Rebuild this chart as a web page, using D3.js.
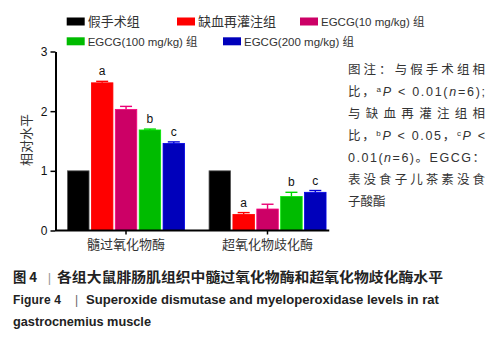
<!DOCTYPE html>
<html>
<head>
<meta charset="utf-8">
<script src="https://cdn.jsdelivr.net/npm/d3@7"></script>
<style>
  body { margin: 0; background: #fff; }
  svg { display: block; }
</style>
</head>
<body>
<div id="chart"></div>
<script>
// chart data
var groups = ["髓过氧化物酶", "超氧化物歧化酶"];
var seriesNames = ["假手术组", "缺血再灌注组", "EGCG(10 mg/kg) 组", "EGCG(100 mg/kg) 组", "EGCG(200 mg/kg) 组"];
var seriesColors = ["#000000", "#ff0000", "#cc0066", "#00bb00", "#0000bb"];
var meanMPO = [1.0, 2.475, 2.03, 1.685, 1.46];
var errMPO = [0, 0.025, 0.05, 0.015, 0.025];
var meanSOD = [1.0, 0.27, 0.36, 0.57, 0.64];
var errSOD = [0, 0.03, 0.08, 0.07, 0.03];
var sigMPO = ["", "a", "", "b", "c"];
var sigSOD = ["", "a", "", "b", "c"];
var yTicks = [0, 1, 2, 3];

var noteLines = [
    [{ t: "图注：与假手术组相" }],
    [{ t: "比，" }, { t: "a", sup: true }, { t: "P", it: true }, { t: " < 0.01(" }, { t: "n", it: true }, { t: "=6);" }],
    [{ t: "与缺血再灌注组相" }],
    [{ t: "比，" }, { t: "b", sup: true }, { t: "P", it: true }, { t: " < 0.05，" }, { t: "c", sup: true }, { t: "P", it: true }, { t: " <" }],
    [{ t: "0.01(" }, { t: "n", it: true }, { t: "=6)。EGCG：" }],
    [{ t: "表没食子儿茶素没食" }],
    [{ t: "子酸酯" }]
];

function create_bar_chart(width, height) {
    var margin = { top: 51.5, left: 55.5, bottom: 110 };
    var plotBottom = height - margin.bottom + 0.5;

    d3.select("#chart").select("svg").remove();

    var svg = d3.select("#chart").append("svg")
        .attr("width", width)
        .attr("height", height);

    var rows = seriesNames.map(function (name, i) {
        return { name: name, color: seriesColors[i] };
    });
    var data = groups.map(function (g, gi) {
        var means = gi === 0 ? meanMPO : meanSOD;
        var errs = gi === 0 ? errMPO : errSOD;
        var sig = gi === 0 ? sigMPO : sigSOD;
        return {
            group: g,
            values: rows.map(function (r, i) {
                return { name: r.name, color: r.color, mean: means[i], err: errs[i], sig: sig[i] };
            })
        };
    });

    // scales
    var x0 = d3.scaleBand().domain(groups).range([margin.left - 0.25, 338.25]).padding(0);
    var x1 = d3.scaleBand().domain(seriesNames)
        .range([12.3, x0.bandwidth() - 12.2]).paddingInner(0.1).paddingOuter(0);
    var y = d3.scaleLinear().domain([0, 3]).range([plotBottom, margin.top]);

    // bars
    var g = svg.selectAll(".grp")
        .data(data)
        .enter().append("g")
        .attr("class", "grp")
        .attr("transform", function (d) { return "translate(" + x0(d.group) + ",0)"; });

    g.selectAll("rect")
        .data(function (d) { return d.values; })
        .enter().append("rect")
        .attr("x", function (d) { return x1(d.name); })
        .attr("y", function (d) { return y(d.mean); })
        .attr("width", x1.bandwidth())
        .attr("height", function (d) { return y(0) - y(d.mean); })
        .attr("fill", function (d) { return d.color; })
        .attr("stroke", function (d) { return d.color === "#000000" ? "#555" : d3.color(d.color).brighter(0.6); })
        .attr("stroke-width", 0.8);

    // error bars
    var eb = g.selectAll(".err")
        .data(function (d) { return d.values.filter(function (v) { return v.err > 0; }); })
        .enter().append("g")
        .attr("class", "err")
        .attr("stroke", function (d) { return d3.color(d.color).brighter(0.4); })
        .attr("stroke-width", 1.4);
    eb.append("line")
        .attr("x1", function (d) { return x1(d.name) + x1.bandwidth() / 2; })
        .attr("x2", function (d) { return x1(d.name) + x1.bandwidth() / 2; })
        .attr("y1", function (d) { return y(d.mean); })
        .attr("y2", function (d) { return y(d.mean + d.err); });
    eb.append("line")
        .attr("x1", function (d) { return x1(d.name) + x1.bandwidth() / 2 - 6; })
        .attr("x2", function (d) { return x1(d.name) + x1.bandwidth() / 2 + 6; })
        .attr("y1", function (d) { return y(d.mean + d.err); })
        .attr("y2", function (d) { return y(d.mean + d.err); });

    // significance letters
    g.selectAll(".sig")
        .data(function (d) { return d.values.filter(function (v) { return v.sig; }); })
        .enter().append("text")
        .attr("class", "sig")
        .attr("x", function (d) { return x1(d.name) + x1.bandwidth() / 2; })
        .attr("y", function (d) { return y(d.mean + d.err) - 6; })
        .attr("text-anchor", "middle")
        .style("font-family", "'Liberation Sans', Arial, sans-serif")
        .style("font-size", "12px")
        .attr("fill", "#111")
        .text(function (d) { return d.sig; });

    // y axis
    var yAxis = svg.append("g")
        .attr("transform", "translate(" + margin.left + ",0)")
        .call(d3.axisLeft(y).tickValues(yTicks).tickFormat(d3.format("d"))
            .tickSize(5).tickSizeOuter(0).tickPadding(3));
    yAxis.select(".domain").attr("stroke-width", 2);
    yAxis.selectAll(".tick line").attr("stroke-width", 1.5);
    yAxis.selectAll("text")
        .style("font-family", "'Liberation Sans', Arial, sans-serif")
        .style("font-size", "12px")
        .attr("fill", "#111");

    // x axis
    var xAxis = svg.append("g")
        .attr("transform", "translate(0," + plotBottom + ")")
        .call(d3.axisBottom(x0).tickSize(4).tickSizeOuter(0).tickPadding(5));
    xAxis.select(".domain")
        .attr("d", "M" + margin.left + ",0H" + (x0.range()[1] - 9))
        .attr("stroke-width", 2);
    xAxis.selectAll(".tick line").attr("stroke-width", 1.5);
    xAxis.selectAll("text")
        .style("font-family", "'Noto Sans CJK SC', sans-serif")
        .style("font-size", "13px")
        .attr("fill", "#333");

    // y label
    svg.append("text")
        .attr("transform", "rotate(-90)")
        .attr("x", -140)
        .attr("y", 31)
        .attr("text-anchor", "middle")
        .style("font-family", "'Noto Sans CJK SC', sans-serif")
        .style("font-size", "13px")
        .attr("fill", "#333")
        .text("相对水平");

    // legend
    var legendPos = [[66.7, 17.5], [177, 17.5], [300, 17.5], [66.7, 37.3], [223, 37.3]];
    var legend = svg.selectAll(".legend")
        .data(rows)
        .enter().append("g")
        .attr("class", "legend")
        .attr("transform", function (d, i) { return "translate(" + legendPos[i][0] + "," + legendPos[i][1] + ")"; });
    legend.append("rect")
        .attr("width", 18)
        .attr("height", 8)
        .attr("fill", function (d) { return d.color; });
    legend.append("text")
        .attr("x", 21)
        .attr("y", 8.5)
        .style("font-family", "'Liberation Sans', 'Noto Sans CJK SC', sans-serif")
        .style("font-size", function (d, i) { return i < 2 ? "13px" : "11.5px"; })
        .attr("fill", "#333")
        .text(function (d) { return d.name; });

    // note on the right
    var notes = svg.append("g")
        .style("font-family", "'Liberation Sans', 'Noto Sans CJK SC', sans-serif")
        .style("font-size", "12.5px")
        .attr("fill", "#333");
    notes.selectAll("text")
        .data(noteLines)
        .enter().append("text")
        .attr("x", 348)
        .attr("y", function (d, i) { return 73.5 + i * 22; })
        .each(function (d, i) {
            var t = d3.select(this);
            if (i < noteLines.length - 1) {
                t.attr("textLength", 137).attr("lengthAdjust", "spacing");
            }
            d.forEach(function (p) {
                var s = t.append("tspan").text(p.t);
                if (p.it) s.style("font-style", "italic");
                if (p.sup) s.attr("baseline-shift", "super").style("font-size", "8px");
            });
        });

    // figure caption
    var cap = svg.append("g").attr("fill", "#222");
    cap.append("text")
        .attr("x", 13)
        .attr("y", 282)
        .style("font-family", "'Noto Sans CJK SC', sans-serif")
        .style("font-size", "13.3px")
        .style("font-weight", "bold")
        .text("图 4");
    cap.append("text")
        .attr("x", 49.5)
        .attr("y", 282)
        .attr("text-anchor", "middle")
        .style("font-family", "'Liberation Sans', sans-serif")
        .style("font-size", "13px")
        .attr("fill", "#999")
        .text("|");
    cap.append("text")
        .attr("x", 57)
        .attr("y", 282)
        .attr("textLength", 386)
        .attr("lengthAdjust", "spacingAndGlyphs")
        .style("font-family", "'Noto Sans CJK SC', sans-serif")
        .style("font-size", "13.3px")
        .style("font-weight", "bold")
        .text("各组大鼠腓肠肌组织中髓过氧化物酶和超氧化物歧化酶水平");

    var enFont = "'Liberation Sans', Arial, sans-serif";
    cap.append("text")
        .attr("x", 13)
        .attr("y", 303.5)
        .attr("textLength", 48)
        .style("font-family", enFont)
        .style("font-size", "12px")
        .style("font-weight", "bold")
        .text("Figure 4");
    cap.append("text")
        .attr("x", 75)
        .attr("y", 303.5)
        .style("font-family", enFont)
        .style("font-size", "12px")
        .attr("fill", "#666")
        .text("|");
    cap.append("text")
        .attr("x", 86)
        .attr("y", 303.5)
        .attr("textLength", 353)
        .attr("lengthAdjust", "spacingAndGlyphs")
        .style("font-family", enFont)
        .style("font-size", "12px")
        .style("font-weight", "bold")
        .text("Superoxide dismutase and myeloperoxidase levels in rat");
    cap.append("text")
        .attr("x", 13)
        .attr("y", 326)
        .attr("textLength", 138)
        .attr("lengthAdjust", "spacingAndGlyphs")
        .style("font-family", enFont)
        .style("font-size", "12px")
        .style("font-weight", "bold")
        .text("gastrocnemius muscle");
}

create_bar_chart(498, 340);
</script>
</body>
</html>
